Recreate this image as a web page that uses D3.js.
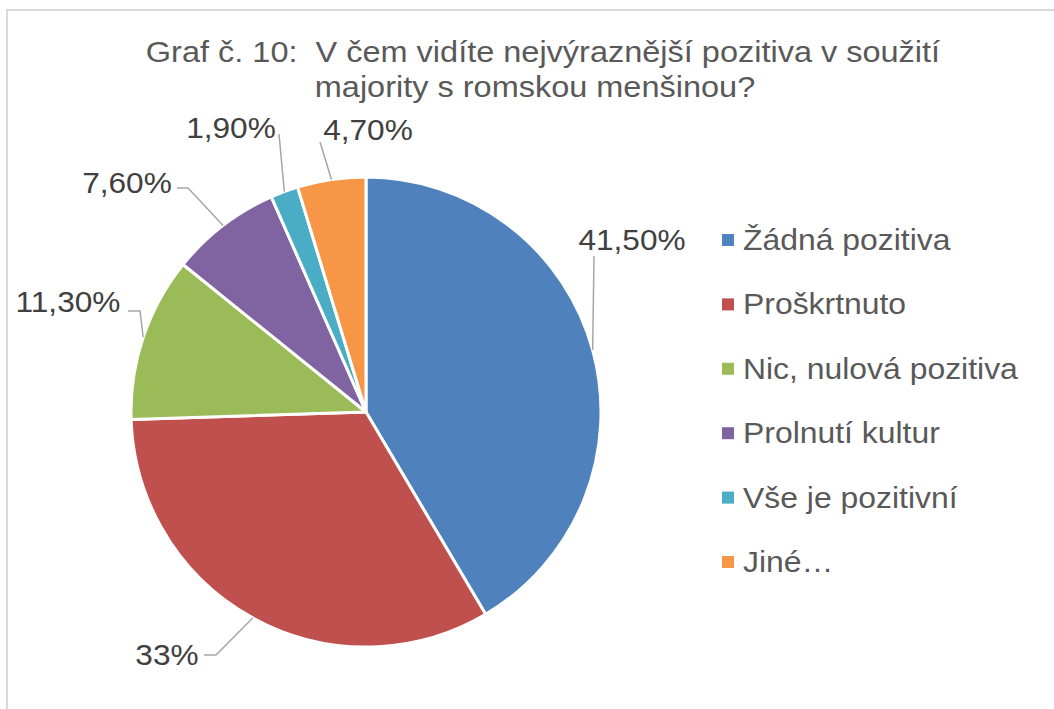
<!DOCTYPE html>
<html>
<head>
<meta charset="utf-8">
<script src="https://cdn.jsdelivr.net/npm/d3@7"></script>
<style>
  body { margin: 0; background: #fff; }
  svg { display: block; font-family: "Liberation Sans", Arial, sans-serif; }
</style>
</head>
<body>
<div id="figure"></div>
<script>
// data
const categories = ['Žádná pozitiva', 'Proškrtnuto', 'Nic, nulová pozitiva', 'Prolnutí kultur', 'Vše je pozitivní', 'Jiné…']
const values = [41.5, 33, 11.3, 7.6, 1.9, 4.7]
const valueLabels = ['41,50%', '33%', '11,30%', '7,60%', '1,90%', '4,70%']
const colors = ['#4F81BD', '#C0504D', '#9BBB59', '#8064A2', '#4BACC6', '#F79646']
const titleLines = ['Graf č. 10:  V čem vidíte nejvýraznější pozitiva v soužití', 'majority s romskou menšinou?']

// figure
const width = 1054
const height = 709
const cx = 366, cy = 412, radius = 235
const titleX = [543, 535]

// label layout: text anchor point and where the leader line leaves the label
const labelLayout = [
  { x: 632, y: 250, from: [594, 256], elbow: null },
  { x: 167, y: 665, from: [204, 655], elbow: [216, 655] },
  { x: 68, y: 312, from: [128, 311], elbow: [140, 311] },
  { x: 127, y: 193, from: [177, 188], elbow: [188, 188] },
  { x: 231, y: 138, from: [279, 134], elbow: null },
  { x: 368, y: 140, from: [320, 142], elbow: null }
]

// the source text is a bit wider than Liberation Sans at the same height
function stretch(sel, k) {
  sel.each(function () {
    const w = this.getComputedTextLength()
    d3.select(this).attr('textLength', w * k).attr('lengthAdjust', 'spacingAndGlyphs')
  })
}

const svg = d3.select('#figure').append('svg')
  .attr('width', width).attr('height', height)

// outer frame
svg.append('rect').attr('x', 7).attr('y', 10).attr('width', 1060).attr('height', 720)
  .attr('fill', 'none').attr('stroke', '#d9d9d9').attr('stroke-width', 2)

/**
 * title
 */
const title = svg.append('g').selectAll('text').data(titleLines).enter().append('text')
  .attr('x', (d, i) => titleX[i]).attr('y', (d, i) => 62 + i * 35)
  .attr('text-anchor', 'middle')
  .attr('font-size', 29).attr('fill', '#595959')
  .attr('xml:space', 'preserve')
  .style('white-space', 'pre')
  .text(d => d)
stretch(title, 1.12)

/**
 * pie
 */
const pie = d3.pie().sort(null).value(d => d)
const arcs = pie(values)
const arc = d3.arc().innerRadius(0).outerRadius(radius)

const g = svg.append('g').attr('transform', `translate(${cx},${cy})`)
g.selectAll('path').data(arcs).enter().append('path')
  .attr('d', arc)
  .attr('fill', (d, i) => colors[i])
  .attr('stroke', '#fff').attr('stroke-width', 3).attr('stroke-linejoin', 'round')

/**
 * leader lines + labels
 */
const lines = svg.append('g')
arcs.forEach((d, i) => {
  const a = (d.startAngle + d.endAngle) / 2
  const px = cx + radius * Math.sin(a)
  const py = cy - radius * Math.cos(a)
  const L = labelLayout[i]
  const pts = [L.from]
  if (L.elbow) pts.push(L.elbow)
  pts.push([px, py])
  lines.append('path').attr('d', d3.line()(pts))
    .attr('fill', 'none').attr('stroke', '#a6a6a6').attr('stroke-width', 1.5)
})

const labels = svg.append('g').selectAll('text').data(valueLabels).enter().append('text')
  .attr('x', (d, i) => labelLayout[i].x)
  .attr('y', (d, i) => labelLayout[i].y)
  .attr('text-anchor', 'middle')
  .attr('font-size', 29).attr('fill', '#404040')
  .text(d => d)
stretch(labels, 1.09)

/**
 * legend
 */
const ly = d3.scalePoint().domain(categories).range([240, 562])
const legend = svg.append('g')
const item = legend.selectAll('g').data(categories).enter().append('g')
  .attr('transform', d => `translate(722,${ly(d)})`)
item.append('rect').attr('x', 0).attr('y', -6).attr('width', 12).attr('height', 12)
  .attr('fill', (d, i) => colors[i])
const legendText = item.append('text').attr('x', 21).attr('y', 10)
  .attr('font-size', 29).attr('fill', '#595959')
  .text(d => d)
stretch(legendText, 1.1)
</script>
</body>
</html>
